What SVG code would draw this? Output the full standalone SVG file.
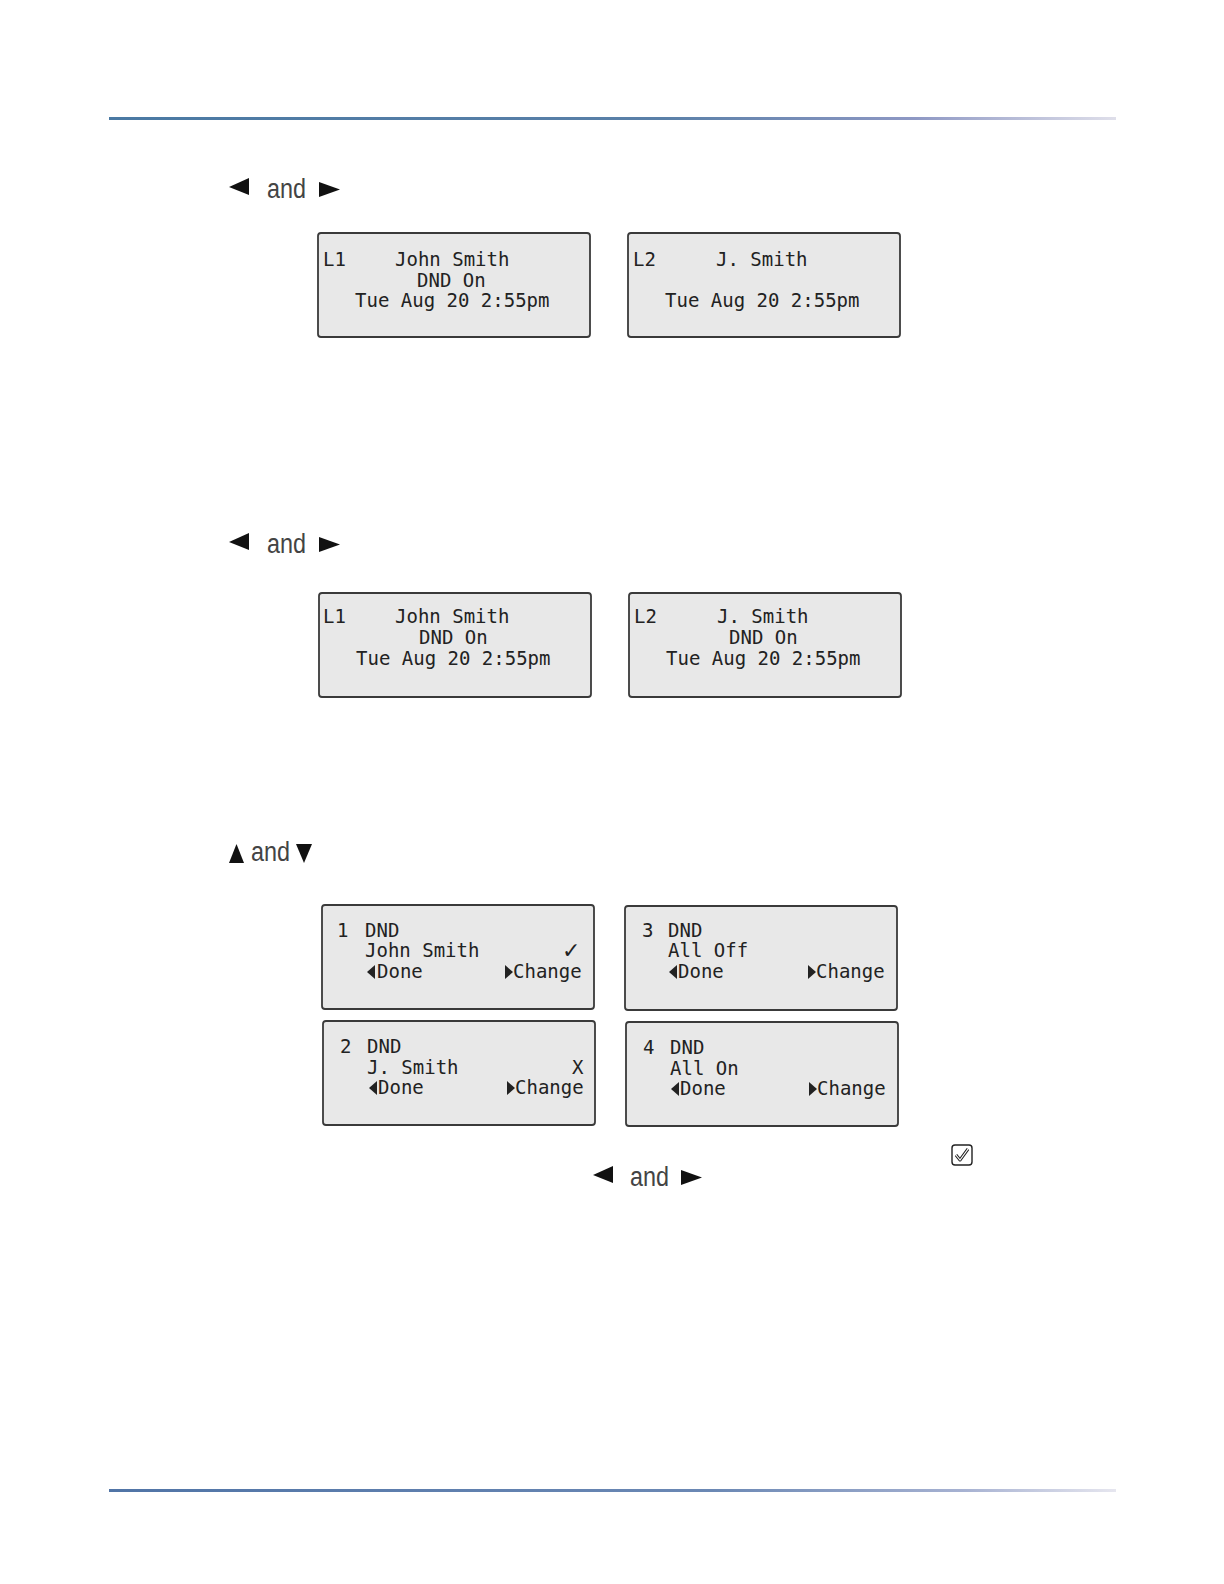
<svg xmlns="http://www.w3.org/2000/svg" width="1224" height="1584" viewBox="0 0 1224 1584">
<style>
.box{fill:#e8e8e8;stroke:#3a3a3a;stroke-width:1.8}
.lcd{font-family:"DejaVu Sans Mono","Liberation Mono",monospace;font-size:19px;fill:#222}
.and{font-family:"Liberation Sans",Arial,sans-serif;font-size:27px;fill:#444}
.tri{fill:#111}
.sm{fill:#222}
</style>
<defs>
<linearGradient id="rule1" x1="0" y1="0" x2="1" y2="0">
<stop offset="0" stop-color="#4a79a3"/>
<stop offset="0.55" stop-color="#5a80a8"/>
<stop offset="0.8" stop-color="#8e98c4"/>
<stop offset="1" stop-color="#dfdfea"/>
</linearGradient>
<linearGradient id="rule2" x1="0" y1="0" x2="1" y2="0">
<stop offset="0" stop-color="#5074a6"/>
<stop offset="0.6" stop-color="#6b88b4"/>
<stop offset="0.85" stop-color="#a7b2d2"/>
<stop offset="1" stop-color="#e6e6ef"/>
</linearGradient>
<g id="lt"><polygon points="0,9 20,0 20,17" class="tri"/></g>
<g id="rt"><polygon points="0,0 21,7.5 0,15" class="tri"/></g>
<g id="sl"><polygon points="0,7 8,0 8,14" class="sm"/></g>
<g id="sr"><polygon points="0,0 8,7 0,14" class="sm"/></g>
</defs>
<rect width="1224" height="1584" fill="#ffffff"/>
<rect x="109" y="117" width="1007" height="3" fill="url(#rule1)"/>
<rect x="109" y="1489" width="1007" height="3" fill="url(#rule2)"/>

<g id="nav1">
<use href="#lt" x="229" y="178"/>
<text class="and" x="267" y="198" textLength="39" lengthAdjust="spacingAndGlyphs">and</text>
<use href="#rt" x="319" y="182"/>
</g>

<g id="lcd-r1-l1">
<rect class="box" x="318" y="233" width="272" height="104" rx="3"/>
<text class="lcd" x="323" y="266">L1</text>
<text class="lcd" x="395" y="266">John Smith</text>
<text class="lcd" x="417" y="287">DND On</text>
<text class="lcd" x="355" y="307">Tue Aug 20 2:55pm</text>
</g>
<g id="lcd-r1-l2">
<rect class="box" x="628" y="233" width="272" height="104" rx="3"/>
<text class="lcd" x="633" y="266">L2</text>
<text class="lcd" x="716" y="266">J. Smith</text>
<text class="lcd" x="665" y="307">Tue Aug 20 2:55pm</text>
</g>

<g id="nav2">
<use href="#lt" x="229" y="533"/>
<text class="and" x="267" y="553" textLength="39" lengthAdjust="spacingAndGlyphs">and</text>
<use href="#rt" x="319" y="537"/>
</g>

<g id="lcd-r2-l1">
<rect class="box" x="319" y="593" width="272" height="104" rx="3"/>
<text class="lcd" x="323" y="623">L1</text>
<text class="lcd" x="395" y="623">John Smith</text>
<text class="lcd" x="419" y="644">DND On</text>
<text class="lcd" x="356" y="665">Tue Aug 20 2:55pm</text>
</g>
<g id="lcd-r2-l2">
<rect class="box" x="629" y="593" width="272" height="104" rx="3"/>
<text class="lcd" x="634" y="623">L2</text>
<text class="lcd" x="717" y="623">J. Smith</text>
<text class="lcd" x="729" y="644">DND On</text>
<text class="lcd" x="666" y="665">Tue Aug 20 2:55pm</text>
</g>

<g id="nav3">
<polygon class="tri" points="229,863 236.5,844 244,863"/>
<text class="and" x="251" y="861" textLength="39" lengthAdjust="spacingAndGlyphs">and</text>
<polygon class="tri" points="296,844 312,844 304,863"/>
</g>

<g id="menu1">
<rect class="box" x="322" y="905" width="272" height="104" rx="3"/>
<text class="lcd" x="337" y="937">1</text>
<text class="lcd" x="365" y="937">DND</text>
<text class="lcd" x="365" y="957">John Smith</text>
<text x="562" y="958" font-family="DejaVu Sans,sans-serif" font-size="22" fill="#222">✓</text>
<use href="#sl" x="367" y="965"/>
<text class="lcd" x="377" y="978">Done</text>
<use href="#sr" x="505" y="965"/>
<text class="lcd" x="513" y="978">Change</text>
</g>
<g id="menu3">
<rect class="box" x="625" y="906" width="272" height="104" rx="3"/>
<text class="lcd" x="642" y="937">3</text>
<text class="lcd" x="668" y="937">DND</text>
<text class="lcd" x="668" y="957">All Off</text>
<use href="#sl" x="669" y="965"/>
<text class="lcd" x="678" y="978">Done</text>
<use href="#sr" x="808" y="965"/>
<text class="lcd" x="816" y="978">Change</text>
</g>
<g id="menu2">
<rect class="box" x="323" y="1021" width="272" height="104" rx="3"/>
<text class="lcd" x="340" y="1053">2</text>
<text class="lcd" x="367" y="1053">DND</text>
<text class="lcd" x="367" y="1074">J. Smith</text>
<text class="lcd" x="572" y="1074">X</text>
<use href="#sl" x="369" y="1081"/>
<text class="lcd" x="378" y="1094">Done</text>
<use href="#sr" x="507" y="1081"/>
<text class="lcd" x="515" y="1094">Change</text>
</g>
<g id="menu4">
<rect class="box" x="626" y="1022" width="272" height="104" rx="3"/>
<text class="lcd" x="643" y="1054">4</text>
<text class="lcd" x="670" y="1054">DND</text>
<text class="lcd" x="670" y="1075">All On</text>
<use href="#sl" x="671" y="1082"/>
<text class="lcd" x="680" y="1095">Done</text>
<use href="#sr" x="809" y="1082"/>
<text class="lcd" x="817" y="1095">Change</text>
</g>

<g id="checkbox">
<rect x="952" y="1145" width="20" height="20" rx="3" fill="#fff" stroke="#222" stroke-width="1.4"/>
<path d="M956,1155 L960,1160 L968,1149" fill="none" stroke="#222" stroke-width="3" stroke-linejoin="round"/>
<path d="M956,1155 L960,1160 L968,1149" fill="none" stroke="#fff" stroke-width="1.2" stroke-linejoin="round"/>
</g>

<g id="nav4">
<use href="#lt" x="593" y="1166"/>
<text class="and" x="630" y="1186" textLength="39" lengthAdjust="spacingAndGlyphs">and</text>
<use href="#rt" x="681" y="1170"/>
</g>
</svg>
